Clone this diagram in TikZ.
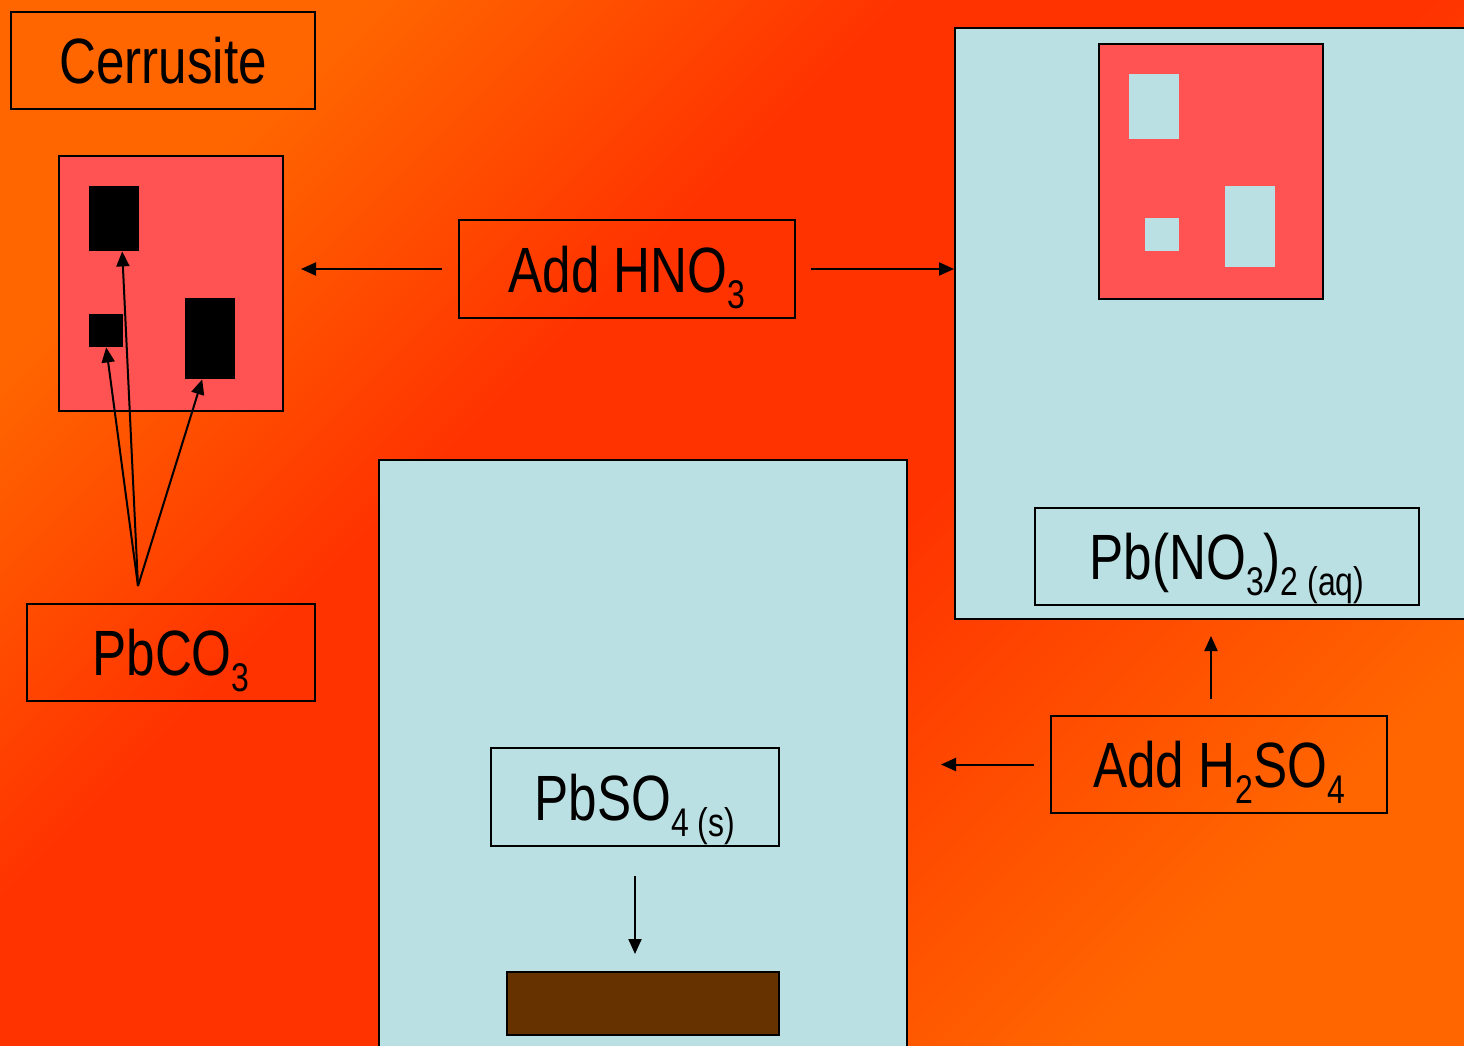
\documentclass[tikz,border=0pt]{standalone}
\usepackage{fontspec}
\setmainfont{Liberation Sans}[FakeStretch=0.8]
\usetikzlibrary{arrows.meta}
\definecolor{bgorange}{HTML}{FF6600}
\definecolor{bgred}{HTML}{FF3300}
\definecolor{paleblue}{HTML}{BBE0E3}
\definecolor{pinkred}{HTML}{FF5252}
\definecolor{leadbrown}{HTML}{663300}
\pgfdeclareverticalshading{bgshade}{100bp}{color(0bp)=(bgorange); color(25bp)=(bgorange); color(45bp)=(bgred); color(60bp)=(bgred); color(75bp)=(bgorange); color(100bp)=(bgorange)}
\newcommand{\chsub}[1]{\raisebox{-16pt}{\fontsize{40}{40}\selectfont #1}}
\begin{document}
\begin{tikzpicture}[x=1pt,y=-1pt,
  labelbox/.style={draw=black, line width=2pt, inner sep=0pt, text height=46pt, text depth=0pt,
    font=\fontsize{64}{70}\selectfont, anchor=north west},
  panel/.style={draw=black, line width=2pt, inner sep=0pt, anchor=north west},
  blob/.style={inner sep=0pt, anchor=north west},
  flow/.style={-{Triangle[length=15pt,width=13pt]}, line width=2pt}]
\useasboundingbox (0,0) rectangle (1464,1045);
\clip (0,0) rectangle (1464,1045);
\shade[shading=bgshade, shading angle=45] (0,0) rectangle (1464,1045);
% big containers
\node[panel, fill=paleblue, minimum width=520pt, minimum height=591pt] (soln) at (954,27) {};
\node[panel, fill=paleblue, minimum width=528pt, minimum height=620pt] (ppt) at (378,459) {};
% ore sample
\node[panel, fill=pinkred, minimum width=224pt, minimum height=255pt] (ore) at (58,155) {};
\node[blob, fill=black, minimum width=50pt, minimum height=65pt] (b1) at (89,186) {};
\node[blob, fill=black, minimum width=34pt, minimum height=33pt] (b2) at (89,314) {};
\node[blob, fill=black, minimum width=50pt, minimum height=81pt] (b3) at (185,298) {};
% leached sample
\node[panel, fill=pinkred, minimum width=224pt, minimum height=255pt] (res) at (1098,43) {};
\node[blob, fill=paleblue, minimum width=50pt, minimum height=65pt] (h1) at (1129,74) {};
\node[blob, fill=paleblue, minimum width=34pt, minimum height=33pt] (h2) at (1145,218) {};
\node[blob, fill=paleblue, minimum width=50pt, minimum height=81pt] (h3) at (1225,186) {};
% precipitate
\node[panel, fill=leadbrown, minimum width=272pt, minimum height=63pt] (brown) at (506,971) {};
% labels
\node[labelbox, minimum width=304pt, minimum height=97pt] (cer) at (10,11) {Cerrusite};
\node[labelbox, minimum width=288pt, minimum height=97pt] (pbco) at (26,603) {PbCO\chsub{3}};
\node[labelbox, minimum width=336pt, minimum height=98pt] (hno) at (458,219) {Add HNO\chsub{3}};
\node[labelbox, minimum width=384pt, minimum height=97pt] (pbno) at (1034,507) {Pb(NO\chsub{3})\chsub{2 (aq)}};
\node[labelbox, minimum width=336pt, minimum height=97pt] (hso) at (1050,715) {Add H\chsub{2}SO\chsub{4}};
\node[labelbox, minimum width=288pt, minimum height=98pt] (pbso) at (490,747) {PbSO\chsub{4 (s)}};
% connectors
\coordinate (fan) at ([xshift=-33pt,yshift=17pt]pbco.north);
\draw[flow] (fan) -- ([xshift=8pt]b1.south);
\draw[flow] (fan) -- (b2.south);
\draw[flow] (fan) -- ([xshift=-8pt]b3.south);
\draw[flow] ([xshift=-16pt]hno.west) -- ([xshift=17pt]hno.west -| ore.east);
\draw[flow] ([xshift=15pt]hno.east) -- (hno.east -| soln.west);
\coordinate (upend) at ([xshift=-8pt,yshift=79pt]hso.north);
\draw[flow] ([xshift=-8pt,yshift=16pt]hso.north) -- (upend);
\draw[flow] ([xshift=-16pt]hso.west) -- ([xshift=33pt]hso.west -| ppt.east);
\draw[flow] ([yshift=-29pt]pbso.south) -- ([yshift=17pt]pbso.south |- brown.north);
\end{tikzpicture}
\end{document}
